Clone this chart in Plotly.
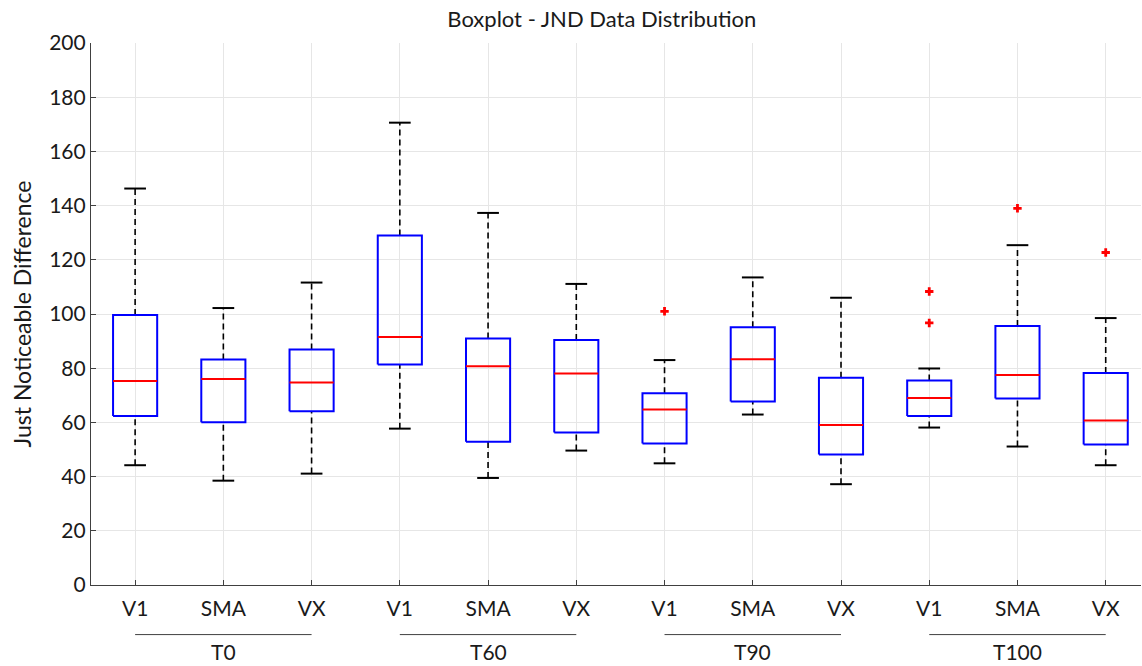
import plotly.graph_objects as go

groups = ["T0", "T60", "T90", "T100"]
methods = ["V1", "SMA", "VX"]
tick_labels = methods * 4

upper_whisker = [146.3, 102.2, 111.6, 170.6, 137.3, 111.1, 83.0, 113.5, 106.0, 79.9, 125.4, 98.5]
q3 = [99.6, 83.2, 86.9, 129.0, 91.0, 90.4, 70.8, 95.1, 76.5, 75.5, 95.6, 78.2]
median = [75.3, 76.0, 74.7, 91.5, 80.7, 78.0, 64.8, 83.3, 59.0, 69.0, 77.5, 60.7]
q1 = [62.4, 60.1, 64.1, 81.4, 52.9, 56.3, 52.2, 67.7, 48.2, 62.4, 68.8, 51.8]
lower_whisker = [44.2, 38.5, 41.1, 57.7, 39.5, 49.6, 44.9, 62.9, 37.2, 58.1, 51.1, 44.2]
outliers = [[], [], [], [], [], [], [101.0], [], [], [108.3, 96.7], [139.0], [122.7]]

FONT = "Lato"
BOX_HW = 0.25
CAP_HW = 0.123

positions = list(range(1, len(tick_labels) + 1))

fig = go.Figure()

# whiskers (dashed)
wx, wy = [], []
for p, lo, a, b, hi in zip(positions, lower_whisker, q1, q3, upper_whisker):
    wx += [p, p, None, p, p, None]
    wy += [b, hi, None, lo, a, None]
fig.add_trace(go.Scatter(x=wx, y=wy, mode="lines",
                         line=dict(color="black", width=1.6, dash="6px,4px"),
                         hoverinfo="skip", showlegend=False))

# caps
cx, cy = [], []
for p, lo, hi in zip(positions, lower_whisker, upper_whisker):
    cx += [p - CAP_HW, p + CAP_HW, None, p - CAP_HW, p + CAP_HW, None]
    cy += [hi, hi, None, lo, lo, None]
fig.add_trace(go.Scatter(x=cx, y=cy, mode="lines",
                         line=dict(color="black", width=2),
                         hoverinfo="skip", showlegend=False))

# boxes
bx, by = [], []
for p, a, b in zip(positions, q1, q3):
    bx += [p - BOX_HW, p + BOX_HW, p + BOX_HW, p - BOX_HW, p - BOX_HW, None]
    by += [a, a, b, b, a, None]
fig.add_trace(go.Scatter(x=bx, y=by, mode="lines",
                         line=dict(color="#0000ff", width=2),
                         hoverinfo="skip", showlegend=False))

# medians
mx, my = [], []
for p, m in zip(positions, median):
    mx += [p - BOX_HW, p + BOX_HW, None]
    my += [m, m, None]
fig.add_trace(go.Scatter(x=mx, y=my, mode="lines",
                         line=dict(color="#ff0000", width=2),
                         hoverinfo="skip", showlegend=False))

# outliers
ox, oy = [], []
for p, outs in zip(positions, outliers):
    for v in outs:
        ox.append(p)
        oy.append(v)
fig.add_trace(go.Scatter(x=ox, y=oy, mode="markers",
                         marker=dict(symbol="cross", size=7, color="#ff0000"),
                         hoverinfo="skip", showlegend=False))

# group separators and labels
shapes = []
annotations = []
for gi, g in enumerate(groups):
    start = positions[gi * 3]
    end = positions[gi * 3 + 2]
    shapes.append(dict(type="line", xref="x", yref="paper",
                       x0=start, x1=end, y0=-0.0915, y1=-0.0915,
                       line=dict(color="#404040", width=1)))
    annotations.append(dict(x=(start + end) / 2, xref="x", y=-0.1225, yref="paper",
                            text=g, showarrow=False, xanchor="center", yanchor="middle",
                            borderpad=0,
                            font=dict(family=FONT, size=21, color="#1a1a1a")))

fig.update_layout(
    width=1142, height=666,
    margin=dict(l=91, r=1, t=43, b=81),
    paper_bgcolor="white", plot_bgcolor="white",
    title=dict(text="Boxplot - JND Data Distribution", x=0.527, xanchor="center",
               y=0.971, yanchor="middle",
               font=dict(family=FONT, size=22, color="#1a1a1a")),
    shapes=shapes,
    annotations=annotations,
    xaxis=dict(
        range=[0.5, 12.4],
        tickmode="array", tickvals=positions, ticktext=tick_labels,
        showgrid=True, gridcolor="#e6e6e6", gridwidth=1,
        showline=True, linecolor="#404040", linewidth=1.2,
        ticks="inside", ticklen=5, tickcolor="#404040",
        ticklabelstandoff=5,
        tickfont=dict(family=FONT, size=21, color="#1a1a1a"),
        zeroline=False, fixedrange=True,
    ),
    yaxis=dict(
        range=[0, 200],
        tickmode="array", tickvals=[0, 20, 40, 60, 80, 100, 120, 140, 160, 180, 200],
        showgrid=True, gridcolor="#e6e6e6", gridwidth=1,
        showline=True, linecolor="#404040", linewidth=1.2,
        ticks="inside", ticklen=5, tickcolor="#404040",
        tickfont=dict(family=FONT, size=21, color="#1a1a1a"),
        title=dict(text="Just Noticeable Difference", standoff=11,
                   font=dict(family=FONT, size=23, color="#1a1a1a")),
        zeroline=False, fixedrange=True,
    ),
)

fig.write_html("out.html")
